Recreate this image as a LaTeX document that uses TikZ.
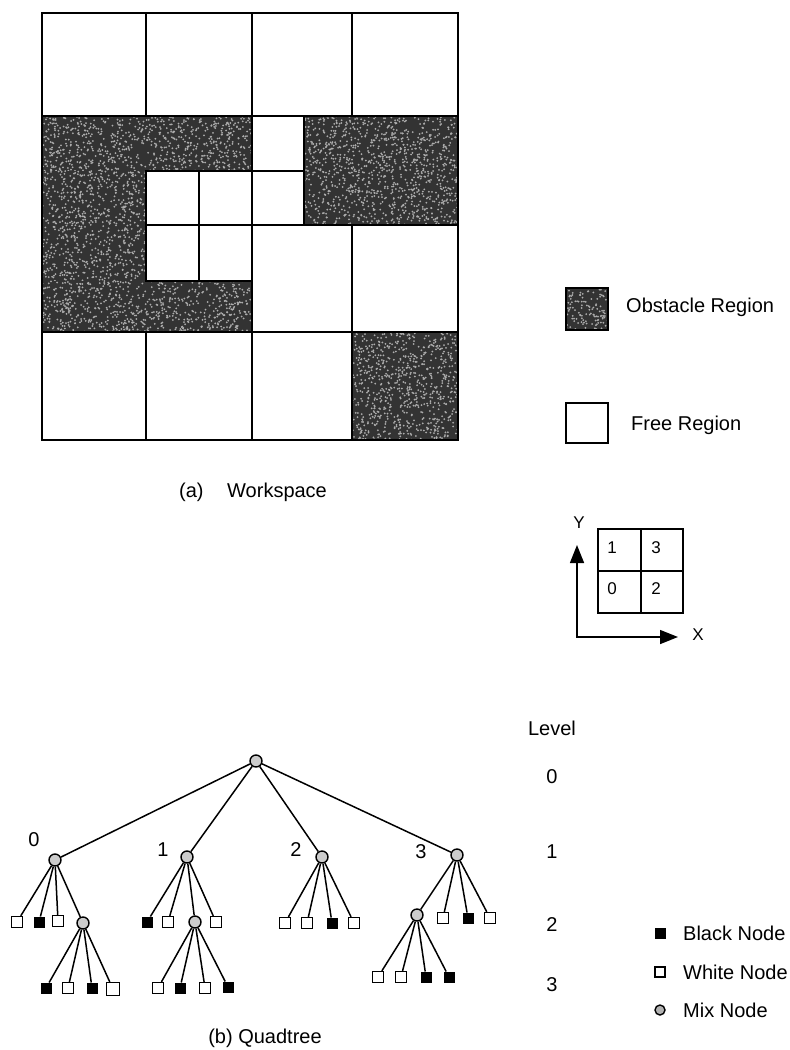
\documentclass[tikz,border=0pt]{standalone}
\usepackage{fontspec}
\setmainfont{Liberation Sans}
\usetikzlibrary{arrows.meta}
\newcommand\obstspeck[5]{%
  \fill[obstfill] (#1,#2) rectangle ++(#3,#4);
  \foreach \k in {1,...,#5}{\fill[speck] ({#1+#3*rnd},{#2+#4*rnd}) circle[radius=1.0];}}
\begin{document}
\begin{tikzpicture}[x=1pt,y=-1pt,
  lbl/.style={inner sep=0pt,font=\fontsize{20}{23}\selectfont},
  smalllbl/.style={inner sep=0pt,font=\fontsize{17}{20}\selectfont},
  obstfill/.style={fill=black!80},
  speck/.style={fill=gray!65},
  cell/.style={draw,line width=1.5pt},
  edge/.style={line width=1.5pt},
  wnode/.style={draw,line width=1.3pt,fill=white,minimum size=11pt,inner sep=0pt},
  bnode/.style={draw,line width=1pt,fill=black,minimum size=10pt,inner sep=0pt},
  mnode/.style={circle,draw,line width=1.4pt,fill=gray!40,minimum size=12pt,inner sep=0pt},
  axis/.style={line width=1.5pt,{Triangle[length=18pt,width=14pt]}-{Triangle[length=18pt,width=14pt]}}]
\useasboundingbox (0,0) rectangle (790,1050);
\fill[white] (0,0) rectangle (790,1050);
\pgfmathsetseed{12}
% ---------- workspace obstacles ----------
\obstspeck{42}{116}{210}{55}{770}
\obstspeck{42}{171}{104}{110}{760}
\obstspeck{42}{281}{210}{51}{710}
\obstspeck{304}{116}{154}{109}{1120}
\obstspeck{352}{332}{106}{108}{760}
% ---------- free cells ----------
\draw[cell] (42,13) rectangle (146,116);
\draw[cell] (146,13) rectangle (252,116);
\draw[cell] (252,13) rectangle (352,116);
\draw[cell] (352,13) rectangle (458,116);
\draw[cell] (252,116) rectangle (304,171);
\draw[cell] (252,171) rectangle (304,225);
\draw[cell] (146,171) rectangle (199,225);
\draw[cell] (199,171) rectangle (252,225);
\draw[cell] (146,225) rectangle (199,281);
\draw[cell] (199,225) rectangle (252,281);
\draw[cell] (252,225) rectangle (352,332);
\draw[cell] (352,225) rectangle (458,332);
\draw[cell] (42,332) rectangle (146,440);
\draw[cell] (146,332) rectangle (252,440);
\draw[cell] (252,332) rectangle (352,440);
\draw[line width=1.8pt] (42,13) rectangle (458,440);
\node[lbl,anchor=west] (capa) at (179,492) {(a)};
\node[lbl,anchor=west] (capws) at (227,492) {Workspace};
% ---------- legend (top) ----------
\obstspeck{566}{288}{42}{42}{115}
\draw[line width=1.2pt] (566,288) rectangle (608,330);
\node[lbl,anchor=west] (obsT) at (626,307) {Obstacle Region};
\draw[line width=1.2pt] (566,403) rectangle (608,443);
\node[lbl,anchor=west] (freeT) at (631,425) {Free Region};
% ---------- quadrant key ----------
\draw[line width=1.4pt] (598,529) rectangle (683,613);
\draw[line width=1.4pt] (641,529) -- (641,613);
\draw[line width=1.4pt] (598,571) -- (683,571);
\node[smalllbl] (q1) at (612,548) {1};
\node[smalllbl] (q3) at (656,548) {3};
\node[smalllbl] (q0) at (612,589) {0};
\node[smalllbl] (q2) at (656,589) {2};
\coordinate (ytip) at (577,545);
\coordinate (corner) at (577,637);
\coordinate (xtip) at (678,637);
\draw[axis] (ytip) -- (corner) -- (xtip);
\node[smalllbl] (ylab) at (579,523) {Y};
\node[smalllbl] (xlab) at (698,635) {X};
% ---------- quadtree ----------
\node[mnode] (R) at (256,761) {};
\node[mnode] (A0) at (55,860) {};
\node[mnode] (A1) at (187,857) {};
\node[mnode] (A2) at (322,857) {};
\node[mnode] (A3) at (457,855) {};
\node[lbl] (t0) at (34,840) {0};
\node[lbl] (t1) at (163,850) {1};
\node[lbl] (t2) at (296,850) {2};
\node[lbl] (t3) at (421,852) {3};
% children of A0
\node[wnode] (A00) at (17,922) {};
\node[bnode] (A01) at (39,922) {};
\node[wnode] (A02) at (58,921) {};
\node[mnode] (M0) at (83,923) {};
\node[bnode] (M00) at (46,988) {};
\node[wnode] (M01) at (68,988) {};
\node[bnode] (M02) at (92,988) {};
\node[wnode,minimum size=13pt] (M03) at (113,989) {};
% children of A1
\node[bnode] (A10) at (147,922) {};
\node[wnode] (A11) at (168,922) {};
\node[mnode] (M1) at (195,922) {};
\node[wnode] (A13) at (216,922) {};
\node[wnode] (M10) at (158,988) {};
\node[bnode] (M11) at (180,988) {};
\node[wnode] (M12) at (205,988) {};
\node[bnode] (M13) at (228,987) {};
% children of A2
\node[wnode] (A20) at (285,923) {};
\node[wnode] (A21) at (307,923) {};
\node[bnode] (A22) at (332,923) {};
\node[wnode] (A23) at (354,923) {};
% children of A3
\node[mnode] (M3) at (417,915) {};
\node[wnode] (A31) at (443,918) {};
\node[bnode] (A32) at (468,918) {};
\node[wnode] (A33) at (490,918) {};
\node[wnode] (M30) at (378,977) {};
\node[wnode] (M31) at (401,977) {};
\node[bnode] (M32) at (426,977) {};
\node[bnode] (M33) at (449,977) {};
% edges
\foreach \c in {A0,A1,A2,A3} \draw[edge] (R) -- (\c);
\foreach \c in {A00,A01,A02,M0} \draw[edge] (A0) -- (\c);
\foreach \c in {M00,M01,M02,M03} \draw[edge] (M0) -- (\c);
\foreach \c in {A10,A11,M1,A13} \draw[edge] (A1) -- (\c);
\foreach \c in {M10,M11,M12,M13} \draw[edge] (M1) -- (\c);
\foreach \c in {A20,A21,A22,A23} \draw[edge] (A2) -- (\c);
\foreach \c in {M3,A31,A32,A33} \draw[edge] (A3) -- (\c);
\foreach \c in {M30,M31,M32,M33} \draw[edge] (M3) -- (\c);
% level labels
\node[lbl] (lev) at (552,728) {Level};
\node[lbl] (l0) at (552,777) {0};
\node[lbl] (l1) at (552,852) {1};
\node[lbl] (l2) at (552,925) {2};
\node[lbl] (l3) at (552,985) {3};
% legend (bottom)
\node[bnode] (kb) at (660,933) {};
\node[wnode,minimum size=10pt] (kw) at (660,972) {};
\node[mnode,minimum size=10pt,fill=gray!60] (km) at (660,1010) {};
\node[lbl,anchor=west] (kbt) at (683,933) {Black Node};
\node[lbl,anchor=west] (kwt) at (683,972) {White Node};
\node[lbl,anchor=west] (kmt) at (683,1010) {Mix Node};
\node[lbl] (capb) at (265,1038) {(b) Quadtree};
\end{tikzpicture}
\end{document}
